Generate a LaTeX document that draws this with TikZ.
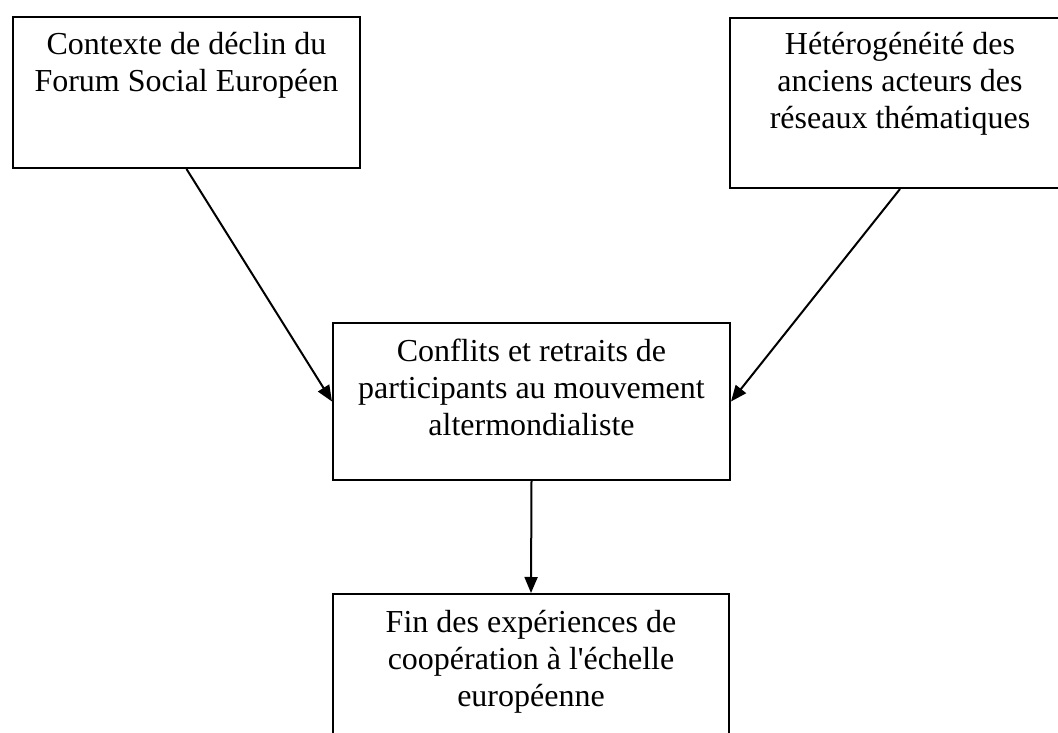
\documentclass[tikz,border=0pt]{standalone}
\usepackage{fontspec}
\setmainfont{Liberation Serif}
\usetikzlibrary{arrows.meta,calc}
\begin{document}
\begin{tikzpicture}[x=1pt,y=-1pt,
  box/.style={draw=black,line width=2pt,rectangle,inner sep=0pt,anchor=north west},
  txt/.style={align=center,inner sep=0pt,anchor=north,font=\fontsize{32}{37}\selectfont},
  conn/.style={line width=2pt,-{Triangle[length=16pt,width=13pt]}}]
\useasboundingbox (0,0) rectangle (1058,733);
\clip (0,0) rectangle (1058,733);
\node[box,minimum width=347pt,minimum height=151pt] (a) at (12,16) {};
\node[box,minimum width=340pt,minimum height=170pt] (b) at (729,17) {};
\node[box,minimum width=397pt,minimum height=157pt] (c) at (332,322) {};
\node[box,minimum width=396pt,minimum height=170pt] (d) at (332,593) {};
\node[txt] (ta) at ($(a.north)+(0,16)$) {Contexte de déclin du\\Forum Social Européen};
\node[txt] (tb) at ($(b.north)+(0,15)$) {Hétérogénéité des\\anciens acteurs des\\réseaux thématiques};
\node[txt] (tc) at ($(c.north)+(0,17)$) {Conflits et retraits de\\participants au mouvement\\altermondialiste};
\node[txt] (td) at ($(d.north)+(0,17)$) {Fin des expériences de\\coopération à l\textquotesingle échelle\\européenne};
\draw[conn] (a.south) -- (c.west);
\draw[conn] (b.south) -- (c.east);
\draw[conn] (c.south) -- (d.north);
\end{tikzpicture}
\end{document}
